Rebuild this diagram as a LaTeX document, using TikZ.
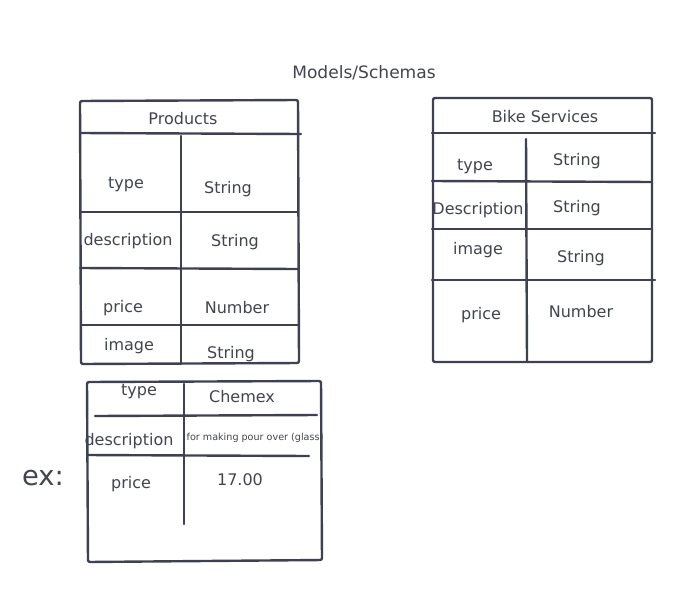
\documentclass[tikz,border=0pt]{standalone}
\usepackage{fontspec}
\setmainfont{DejaVu Sans}
\definecolor{ink}{RGB}{62,65,82}
\definecolor{txt}{RGB}{66,68,82}
\begin{document}
\begin{tikzpicture}[x=0.75pt,y=-0.75pt,
  box/.style={draw=ink,line width=1.8pt,line join=round,rounded corners=1.5pt},
  rule/.style={draw=ink,line width=1.8pt,line cap=round},
  lbl/.style={text=txt,font=\fontsize{12}{14}\selectfont,inner sep=0pt,anchor=center,yshift=-1.2pt},
  small/.style={text=txt,font=\fontsize{7.2}{9}\selectfont,inner sep=0pt,anchor=center,yshift=-0.8pt}]
\useasboundingbox (0,0) rectangle (680,610);
\fill[white] (0,0) rectangle (680,610);

% title
\node[lbl,font=\fontsize{12.8}{15}\selectfont] (title) at (364,71) {Models/Schemas};

% Products table
\draw[box] (80,101) -- (298,100) -- (299,363) -- (81,364) -- cycle;
\draw[rule] (80,133) -- (301,134);
\draw[rule] (181,136) -- (181,364);
\draw[rule] (80,212) -- (298,212);
\draw[rule] (80,268) -- (298,269);
\draw[rule] (82,325) -- (298,325);
\node[lbl] (p0) at (183,117) {Products};
\node[lbl] (p1) at (126,183) {type};
\node[lbl] (p2) at (228,187) {String};
\node[lbl] (p3) at (128,239) {description};
\node[lbl] (p4) at (235,240) {String};
\node[lbl] (p5) at (123,306) {price};
\node[lbl] (p6) at (237,306) {Number};
\node[lbl] (p7) at (129,344) {image};
\node[lbl] (p8) at (231,352) {String};

% Bike Services table
\draw[box] (433,98) -- (652,98) -- (652,362) -- (433,362) -- cycle;
\draw[rule] (432,133) -- (655,133);
\draw[rule] (526,139) -- (527,362);
\draw[rule] (432,181) -- (652,182);
\draw[rule] (432,229) -- (652,229);
\draw[rule] (432,280) -- (655,280);
\node[lbl] (b0) at (545,115) {Bike Services};
\node[lbl] (b1) at (475,165) {type};
\node[lbl] (b2) at (577,159) {String};
\node[lbl] (b3) at (478,208) {Description};
\node[lbl] (b4) at (577,206) {String};
\node[lbl] (b5) at (478,248) {image};
\node[lbl] (b6) at (581,256) {String};
\node[lbl] (b7) at (481,313) {price};
\node[lbl] (b8) at (581,310) {Number};

% Example table
\draw[box] (87,382) -- (321,381) -- (322,560) -- (88,562) -- cycle;
\draw[rule] (184,384) -- (184,524);
\draw[rule] (95,416) -- (317,415);
\draw[rule] (87,455) -- (309,456);
\node[lbl] (e1) at (139,390) {type};
\node[lbl] (e2) at (242,395) {Chemex};
\node[lbl] (e3) at (129,439) {description};
\node[small] (e4) at (255,437) {for making pour over (glass)};
\node[lbl] (e5) at (131,482) {price};
\node[lbl] (e6) at (240,478) {17.00};
\node[text=txt,font=\fontsize{20.5}{24}\selectfont,inner sep=0pt,yshift=-1.5pt] (ex) at (43,476) {ex:};
\end{tikzpicture}
\end{document}
